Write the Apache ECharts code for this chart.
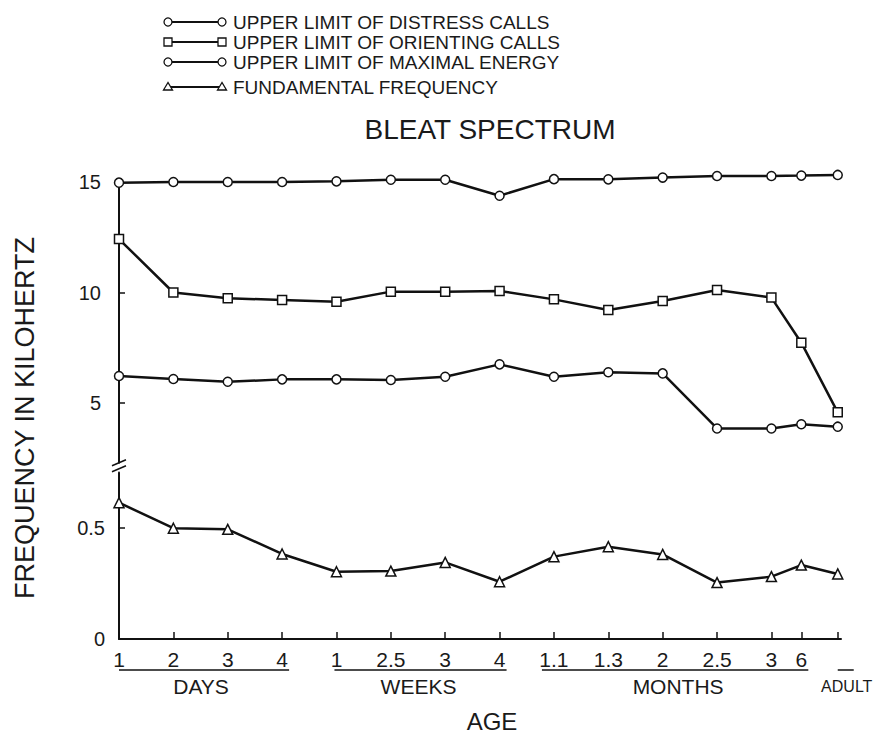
<!DOCTYPE html>
<html>
<head>
<meta charset="utf-8">
<script src="https://cdn.jsdelivr.net/npm/echarts@6/dist/echarts.min.js"></script>
<style>html,body{margin:0;padding:0;background:#fff;}#c{width:877px;height:733px;}</style>
</head>
<body>
<div id="c"></div>
<script>
// ---- data ----
const xPos = [0, 1, 2, 3, 4, 5, 6, 7, 8, 9, 10, 11, 12, 12.55, 13.22];
const tickLabels = ['1', '2', '3', '4', '1', '2.5', '3', '4', '1.1', '1.3', '2', '2.5', '3', '6'];
const groups = [
  { name: 'DAYS', from: 0, to: 3 },
  { name: 'WEEKS', from: 4, to: 7 },
  { name: 'MONTHS', from: 8, to: 13 }
];
const adultLabel = 'ADULT';
const distress = [14.97, 15.0, 15.0, 15.0, 15.03, 15.1, 15.1, 14.38, 15.13, 15.12, 15.2, 15.27, 15.27, 15.29, 15.32];
const orienting = [12.42, 10.0, 9.74, 9.66, 9.58, 10.04, 10.04, 10.07, 9.69, 9.21, 9.62, 10.11, 9.77, 7.73, 4.58];
const maxEnergy = [6.22, 6.09, 5.96, 6.07, 6.07, 6.04, 6.19, 6.75, 6.19, 6.39, 6.34, 3.85, 3.85, 4.04, 3.93];
const fundamental = [0.614, 0.499, 0.494, 0.383, 0.303, 0.306, 0.345, 0.258, 0.371, 0.416, 0.381, 0.254, 0.281, 0.333, 0.293];
const upperTicks = [5, 10, 15];
const lowerTicks = [0, 0.5];
const seriesNames = ['UPPER LIMIT OF DISTRESS CALLS', 'UPPER LIMIT OF ORIENTING CALLS', 'UPPER LIMIT OF MAXIMAL ENERGY', 'FUNDAMENTAL FREQUENCY'];
const seriesSymbols = ['circle', 'rect', 'circle', 'triangle'];

// ---- chart ----
const FONT = '"Liberation Sans", Arial, sans-serif';
const INK = '#111';
const TXT = '#1a1a1a';
const chart = echarts.init(document.getElementById('c'), null, { renderer: 'svg' });

function pts(arr) { return xPos.map((x, i) => [x, arr[i]]); }
function lineSeries(name, arr, sym, axis) {
  return {
    name: name, type: 'line', data: pts(arr),
    xAxisIndex: axis, yAxisIndex: axis,
    symbol: sym, symbolSize: sym === 'triangle' ? 10 : 9,
    showAllSymbol: true, clip: false, animation: false,
    lineStyle: { color: INK, width: 2.5 },
    itemStyle: { color: '#fff', borderColor: INK, borderWidth: 1.5 },
    z: 3
  };
}
const xMax = 13.28;
const baseX = {
  type: 'value', min: 0, max: xMax,
  splitLine: { show: false }
};

chart.setOption({
  backgroundColor: '#fff',
  animation: false,
  title: {
    text: 'BLEAT SPECTRUM', left: 485, top: 110, textAlign: 'center',
    textStyle: { fontFamily: FONT, fontSize: 28, fontWeight: 'normal', color: TXT }
  },
  grid: [
    { left: 119, right: 877 - 841, top: 182, bottom: 733 - 462.7 },
    { left: 119, right: 877 - 841, top: 472.5, bottom: 94 }
  ],
  xAxis: [
    Object.assign({}, baseX, { gridIndex: 0, show: false }),
    Object.assign({}, baseX, {
      gridIndex: 1,
      axisLine: { show: true, onZero: false, lineStyle: { color: INK, width: 2 } },
      axisTick: { show: true, inside: true, length: 7, lineStyle: { color: INK, width: 1.5 },
                  customValues: xPos },
      axisLabel: {
        show: true, customValues: xPos.slice(0, tickLabels.length),
        formatter: v => tickLabels[xPos.indexOf(v)] ?? '',
        fontFamily: FONT, fontSize: 21, color: TXT, margin: 10
      }
    })
  ],
  yAxis: [
    {
      type: 'value', gridIndex: 0, min: 2.3, max: 15,
      splitLine: { show: false },
      axisLine: { show: true, lineStyle: { color: INK, width: 2 } },
      axisTick: { show: true, inside: true, length: 6, lineStyle: { color: INK, width: 1.5 }, customValues: [5, 10] },
      axisLabel: { customValues: upperTicks, fontFamily: FONT, fontSize: 20, color: TXT, margin: 18 }
    },
    {
      type: 'value', gridIndex: 1, min: 0, max: 0.75,
      splitLine: { show: false },
      axisLine: { show: true, lineStyle: { color: INK, width: 2 } },
      axisTick: { show: true, inside: true, length: 6, lineStyle: { color: INK, width: 1.5 }, customValues: [0.5] },
      axisLabel: { customValues: lowerTicks, fontFamily: FONT, fontSize: 20, color: TXT, margin: 14,
                   formatter: v => String(v) }
    }
  ],
  series: [
    lineSeries(seriesNames[0], distress, seriesSymbols[0], 0),
    lineSeries(seriesNames[1], orienting, seriesSymbols[1], 0),
    lineSeries(seriesNames[2], maxEnergy, seriesSymbols[2], 0),
    lineSeries(seriesNames[3], fundamental, seriesSymbols[3], 1)
  ]
});

// ---- annotations (positions from the axes) ----
const px = v => chart.convertToPixel({ xAxisIndex: 1 }, v);
const axisY = chart.convertToPixel({ yAxisIndex: 1 }, 0);
const upperBottom = chart.convertToPixel({ yAxisIndex: 0 }, 2.3);
const axisX = px(0);
const g = [];
const txt = (x, y, s, size, extra) => Object.assign({
  type: 'text', x: x, y: y,
  style: { text: s, fontFamily: FONT, fontSize: size, fill: TXT, align: 'center', verticalAlign: 'middle' }
}, extra || {});

const leftPad = [0, 2, 12];
groups.forEach((gr, k) => {
  const a = px(xPos[gr.from]) - leftPad[k], b = px(xPos[gr.to]) + 7;
  g.push({ type: 'line', shape: { x1: a, y1: axisY + 31, x2: b, y2: axisY + 31 }, style: { stroke: INK, lineWidth: 1.5 } });
  g.push(txt((px(xPos[gr.from]) + b) / 2 - 3, axisY + 47, gr.name, 21));
});
const ax = px(xPos[xPos.length - 1]);
g.push({ type: 'line', shape: { x1: ax, y1: axisY + 31, x2: ax + 16, y2: axisY + 31 }, style: { stroke: INK, lineWidth: 1.5 } });
g.push(txt(ax + 9, axisY + 47, adultLabel, 16));
g.push(txt((px(0) + px(xMax)) / 2 + 12, axisY + 82, 'AGE', 24));
// y-axis name
g.push(txt(25, 418, 'FREQUENCY IN KILOHERTZ', 27, { rotation: Math.PI / 2 }));
// axis break marks
[0, 6].forEach(d => {
  g.push({ type: 'line', shape: { x1: axisX - 7, y1: upperBottom + 3 + d, x2: axisX + 7, y2: upperBottom - 3 + d }, style: { stroke: INK, lineWidth: 1.5 } });
});
// legend
const legendY = [22, 42, 62, 87];
seriesNames.forEach((n, i) => {
  const y = legendY[i], x1 = 168, x2 = 222;
  g.push({ type: 'line', shape: { x1: x1, y1: y, x2: x2, y2: y }, style: { stroke: INK, lineWidth: 2.2 } });
  [x1, x2].forEach(x => {
    let shape;
    if (seriesSymbols[i] === 'circle') shape = { type: 'circle', shape: { cx: x, cy: y, r: 4 } };
    else if (seriesSymbols[i] === 'rect') shape = { type: 'rect', shape: { x: x - 4, y: y - 4, width: 8, height: 8 } };
    else shape = { type: 'polygon', shape: { points: [[x, y - 4.5], [x - 4.5, y + 3], [x + 4.5, y + 3]] } };
    shape.style = { fill: '#fff', stroke: INK, lineWidth: 1.3 };
    g.push(shape);
  });
  g.push(txt(233, y, n, 19, { style: { text: n, fontFamily: FONT, fontSize: 19, fill: TXT, align: 'left', verticalAlign: 'middle' } }));
});
chart.setOption({ graphic: g });
</script>
</body>
</html>
